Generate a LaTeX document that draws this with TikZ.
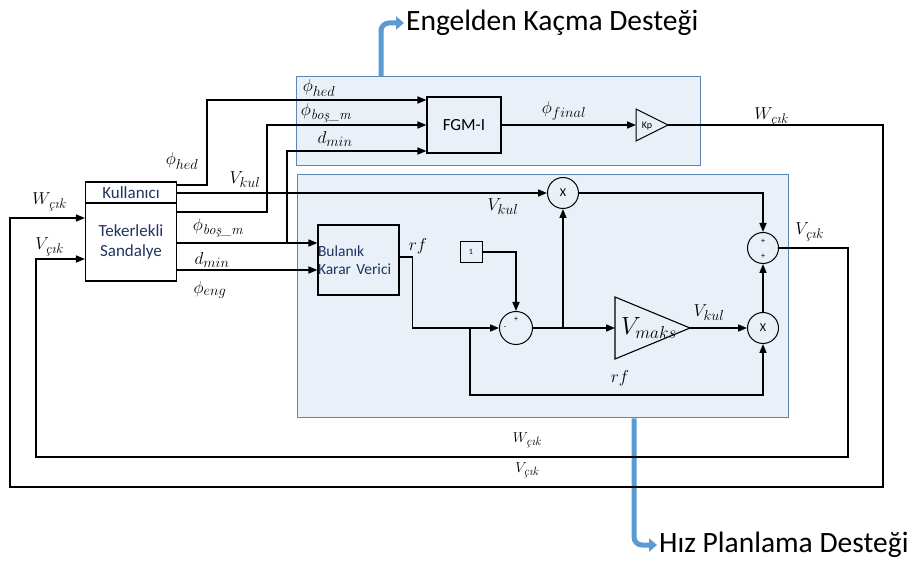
\documentclass[tikz,border=0pt]{standalone}
\usepackage{amsmath}
\usepackage{fontspec}
\usepackage{tikz}
\usetikzlibrary{arrows.meta}
\newfontfamily\calib{Carlito}
\DeclareMathSizes{18}{18}{14}{10}
\DeclareMathSizes{15}{15}{12}{9}
\DeclareMathSizes{23}{23}{19}{14}
\definecolor{panelfill}{HTML}{E9F0F8}
\definecolor{paneledge}{HTML}{5B87B8}
\definecolor{flowblue}{HTML}{5B9BD5}
\definecolor{navytext}{HTML}{1F3560}
\tikzset{
  sig/.style={line width=1.6pt,-{Triangle[length=9pt,width=7pt]}},
  flow/.style={line width=5pt,flowblue,rounded corners=8pt,-{Triangle[length=8pt,width=13pt]}},
  panel/.style={draw=paneledge,line width=1pt,fill=panelfill},
  blk/.style={draw,line width=1.1pt,font=\calib\fontsize{17}{20}\selectfont,text=navytext},
  op/.style={draw,circle,line width=1pt,minimum size=31pt,inner sep=0pt,font=\calib\fontsize{12}{12}\selectfont},
  sgn/.style={inner sep=0pt,font=\calib\fontsize{8}{8}\selectfont},
  lbl/.style={inner sep=1pt,font=\fontsize{18}{20}\selectfont},
  slbl/.style={inner sep=1pt,font=\fontsize{15}{17}\selectfont},
  title/.style={anchor=west,inner sep=2pt,font=\calib\fontsize{29.5}{33}\selectfont}
}

\begin{document}
\begin{tikzpicture}[x=1pt,y=-1pt]
  \useasboundingbox[fill=white] (0,0) rectangle (914,561);
  \node[panel,minimum width=404pt,minimum height=89pt] (topbox) at (498,121.5) {};
  \node[panel,minimum width=491pt,minimum height=243pt] (lowbox) at (542.5,296.5) {};

  \node[title] (eng) at (404,23) {Engelden Kaçma Desteği};
  \node[title] (hiz) at (657,545) {Hız Planlama Desteği};
  \draw[flow] (topbox.north -| 381,0) |- (eng.west);
  \draw[flow] (lowbox.south -| 634,0) |- (hiz.west);

  \node[blk,fill=white,minimum width=91pt,minimum height=21pt,inner sep=0pt] (kul) at (131,192.5) {Kullanıcı};
  \node[blk,fill=white,minimum width=91pt,minimum height=78pt,align=center] (tek) at (131,242) {Tekerlekli\\Sandalye};

  \begin{scope}
    \node[blk,text=black,minimum width=74pt,minimum height=56pt] (fgm) at (464,125) {FGM-I};
    \draw[line width=1pt] (636,109) -- (668,125) -- (636,141) -- cycle;
    \coordinate (kp) at (636,125);
    \coordinate (kpout) at (668,125);
    \node[sgn,font=\calib\fontsize{10}{10}\selectfont] (kptxt) at (647,126) {Kp};
    \draw[sig] (kul.east |- 0,185) -- ++(30,0) |- (fgm.west |- 0,100);
    \draw[sig] (tek.east |- 0,212) -- ++(90,0) |- (fgm.west |- 0,125);
    \draw[sig] (tek.east |- 0,243) ++(110,0) |- (fgm.west |- 0,151);
    \draw[sig] (fgm.east) -- (kp);
    \node[lbl] (tphed) at (319,88) {$\phi_{hed}$};
    \node[lbl] (tpbos) at (326,113) {$\phi_{\text{\itshape boş\_m}}$};
    \node[lbl] (tdmin) at (335,139) {$d_{min}$};
    \node[lbl] (tfinal) at (564,111) {$\phi_{final}$};
    \node[lbl] (twout) at (771,117) {$W_{\text{\itshape çık}}$};
  \end{scope}

  \begin{scope}
    \node[blk,font=\calib\fontsize{15.5}{18}\selectfont,minimum width=81pt,minimum height=70pt,text width=81pt,inner sep=0pt,align=left] (bul) at (358.5,260) {Bulanık\\Karar Verici};
    \node[blk,text=black,font=\calib\fontsize{8}{8}\selectfont,line width=0.8pt,minimum width=22pt,minimum height=21pt,inner sep=0pt] (one) at (471,252) {1};
    \node[op,minimum size=33pt] (sum1) at (516,328) {};
    \node[op] (x1) at (563,193) {X};
    \node[op] (sum2) at (763,248) {};
    \node[op] (x2) at (763,328) {X};
    \node[sgn] (s1p) at ([yshift=9pt]sum1.center) {+};
    \node[sgn] (s1m) at ([xshift=-11pt]sum1.center) {-};
    \node[sgn] (s2a) at ([yshift=7pt]sum2.center) {+};
    \node[sgn] (s2b) at ([yshift=-8pt]sum2.center) {+};
    \draw[line width=1.1pt] (615,297) -- (690,328) -- (615,359) -- cycle;
    \coordinate (vmin) at (615,328);
    \coordinate (vmout) at (690,328);
    \coordinate (rfj) at (470,328);
    \node[inner sep=0pt,font=\fontsize{23}{25}\selectfont] (vmtxt) at (649,328) {$V_{maks}$};

    \draw[sig] (tek.east |- 0,243) -- (bul.west |- 0,243);
    \draw[sig] (tek.east |- 0,270) -- (bul.west |- 0,270);
    \draw[sig] (kul.east |- 0,193) -- (x1);
    \draw[sig] (bul.east |- 0,257) -- ++(13,0) |- (sum1.west);
    \draw[sig] (rfj) -- ++(0,67) -| (x2.south);
    \draw[sig] (one.east) -| (sum1.north);
    \draw[sig] (sum1.east) -- (vmin);
    \draw[sig] (sum1.east -| x1.south) -- (x1.south);
    \draw[sig] (x1.east) -| (sum2.north);
    \draw[sig] (vmout) -- (x2.west);
    \draw[sig] (x2.north) -- (sum2.south);
    \node[lbl] (lvkul) at (503,207) {$V_{kul}$};
    \node[lbl] (lrf) at (418,246) {$rf$};
    \node[lbl] (lvkul2) at (709,313) {$V_{kul}$};
    \node[lbl] (lrf2) at (620,378) {$rf$};
    \node[lbl] (lvout) at (809,232) {$V_{\text{\itshape çık}}$};
  \end{scope}

  \draw[sig] (kpout) -| (883,487) -| (10,218) -- (tek.west |- 0,218);
  \draw[sig] (sum2.east) -| (848,457) -| (36,259) -- (tek.west |- 0,259);

  \node[lbl] (lphed) at (182,161) {$\phi_{hed}$};
  \node[lbl] (lvkul0) at (245,180) {$V_{kul}$};
  \node[lbl] (lpbos) at (218,228) {$\phi_{\text{\itshape boş\_m}}$};
  \node[lbl] (ldmin) at (212,260) {$d_{min}$};
  \node[lbl] (lpeng) at (210,290) {$\phi_{eng}$};
  \node[lbl] (lwin) at (49,202) {$W_{\text{\itshape çık}}$};
  \node[lbl] (lvin) at (49,247) {$V_{\text{\itshape çık}}$};
  \node[slbl] (lwbot) at (527,440) {$W_{\text{\itshape çık}}$};
  \node[slbl] (lvbot) at (527,470) {$V_{\text{\itshape çık}}$};
\end{tikzpicture}
\end{document}
